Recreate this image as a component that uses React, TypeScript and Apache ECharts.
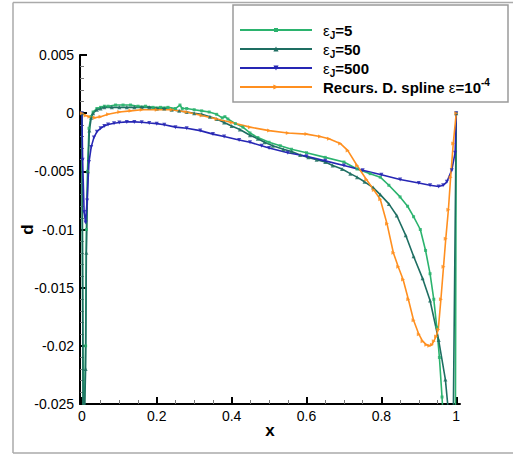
import React, { useEffect, useRef } from "react";
import * as echarts from "echarts";

const FONT = "'Liberation Sans', Arial, Helvetica, sans-serif";

const xTickValues = [0, 0.2, 0.4, 0.6, 0.8, 1];
const xMinorTickValues = [0.05, 0.1, 0.15, 0.25, 0.3, 0.35, 0.45, 0.5, 0.55, 0.65, 0.7, 0.75, 0.85, 0.9, 0.95];

const eps5X = [0, 0.004, 0.01, 0.012, 0.015, 0.019, 0.024, 0.03, 0.04, 0.05, 0.06, 0.07, 0.09, 0.11, 0.13, 0.15, 0.17, 0.19, 0.21, 0.23, 0.25, 0.262, 0.268, 0.28, 0.3, 0.32, 0.34, 0.36, 0.375, 0.382, 0.39, 0.41, 0.43, 0.449, 0.47, 0.5, 0.53, 0.56, 0.6, 0.65, 0.7, 0.735, 0.77, 0.797, 0.82, 0.85, 0.87, 0.886, 0.904, 0.918, 0.93, 0.94, 0.948, 0.955, 0.962, 0.968, 0.98, 0.997, 1];
const eps5Y = [0, -0.03, -0.02, -0.01, -0.005, -0.0013, -0.0003, 0.0001, 0.0004, 0.0005, 0.0006, 0.0006, 0.0007, 0.0007, 0.0007, 0.0006, 0.0006, 0.0005, 0.0005, 0.0005, 0.0004, 0.0007, 0.0004, 0.0004, 0.0003, 0.0002, 0.0001, -0.0001, -0.0004, -0.0003, -0.0005, -0.0009, -0.0012, -0.0017, -0.0021, -0.0025, -0.0028, -0.0031, -0.0034, -0.0038, -0.0042, -0.0048, -0.0052, -0.0055, -0.0062, -0.0072, -0.008, -0.0089, -0.01, -0.0118, -0.0138, -0.016, -0.0184, -0.021, -0.0244, -0.028, -0.04, -0.035, 0];

const eps50X = [0, 0.004, 0.01, 0.012, 0.016, 0.02, 0.025, 0.03, 0.04, 0.05, 0.06, 0.08, 0.1, 0.12, 0.14, 0.16, 0.18, 0.2, 0.22, 0.24, 0.26, 0.28, 0.3, 0.32, 0.342, 0.36, 0.38, 0.4, 0.422, 0.449, 0.47, 0.488, 0.51, 0.538, 0.56, 0.583, 0.605, 0.627, 0.65, 0.67, 0.695, 0.717, 0.735, 0.755, 0.778, 0.797, 0.82, 0.841, 0.865, 0.886, 0.91, 0.93, 0.953, 0.971, 0.98, 0.99, 1];
const eps50Y = [0, -0.03, -0.022, -0.012, -0.005, -0.0015, -0.0004, 0, 0.0003, 0.0004, 0.0005, 0.0005, 0.0005, 0.0005, 0.0005, 0.0005, 0.0005, 0.0004, 0.0004, 0.0003, 0.0002, 0.0001, 0, -0.0001, -0.0003, -0.0005, -0.0008, -0.0011, -0.0014, -0.0019, -0.0022, -0.0025, -0.0028, -0.0031, -0.0033, -0.0036, -0.0038, -0.004, -0.0042, -0.0045, -0.0048, -0.0052, -0.0055, -0.0059, -0.0064, -0.007, -0.0078, -0.0088, -0.0105, -0.0123, -0.0142, -0.0161, -0.0195, -0.0229, -0.026, -0.033, 0];

const eps500X = [0, 0.002, 0.006, 0.01, 0.014, 0.019, 0.025, 0.032, 0.04, 0.05, 0.06, 0.07, 0.086, 0.1, 0.12, 0.14, 0.16, 0.18, 0.2, 0.22, 0.25, 0.28, 0.316, 0.35, 0.38, 0.42, 0.449, 0.48, 0.5, 0.55, 0.6, 0.65, 0.7, 0.75, 0.8, 0.85, 0.9, 0.93, 0.953, 0.965, 0.975, 0.988, 0.997, 1];
const eps500Y = [0, -0.004, -0.0085, -0.0094, -0.0075, -0.0042, -0.0029, -0.0021, -0.0016, -0.0013, -0.0011, -0.00098, -0.00086, -0.0008, -0.00075, -0.00075, -0.00078, -0.00085, -0.0009, -0.001, -0.0012, -0.0013, -0.0015, -0.0018, -0.002, -0.0023, -0.0025, -0.0028, -0.003, -0.0034, -0.0037, -0.0041, -0.0045, -0.0049, -0.0053, -0.0057, -0.006, -0.0062, -0.0063, -0.0062, -0.0059, -0.0049, -0.0034, 0];

const splineX = [0, 0.01, 0.02, 0.035, 0.05, 0.07, 0.1, 0.13, 0.16, 0.2, 0.24, 0.28, 0.32, 0.36, 0.4, 0.449, 0.5, 0.55, 0.6, 0.636, 0.66, 0.69, 0.71, 0.735, 0.76, 0.78, 0.797, 0.815, 0.832, 0.845, 0.858, 0.872, 0.886, 0.9, 0.91, 0.92, 0.928, 0.935, 0.94, 0.946, 0.952, 0.959, 0.966, 0.972, 0.979, 0.985, 0.992, 1];
const splineY = [0, -0.0002, -0.0003, -0.0004, -0.0003, -0.0001, 0.0001, 0.0002, 0.0003, 0.0003, 0.0003, 0.0001, -0.0002, -0.0005, -0.0008, -0.0012, -0.0015, -0.0017, -0.0018, -0.002, -0.0022, -0.0026, -0.0032, -0.0045, -0.0057, -0.0066, -0.0074, -0.0095, -0.012, -0.0132, -0.0143, -0.016, -0.0178, -0.019, -0.0196, -0.0199, -0.02, -0.0199, -0.0196, -0.0192, -0.0186, -0.016, -0.0132, -0.0108, -0.0083, -0.0055, -0.0026, 0];

const C5 = "#2bb36e";
const C50 = "#1e6e62";
const C500 = "#2626b4";
const CSP = "#ff8f1f";

const zip = (xs: number[], ys: number[]) => xs.map((x, i) => [x, ys[i]]);

export default function App() {
  const ref = useRef<HTMLDivElement>(null);
  useEffect(() => {
    if (!ref.current) return;
    const chart = echarts.init(ref.current, null, { renderer: "svg" });

    const rowY = [30, 49, 68, 87];
    const colors = [C5, C50, C500, CSP];
    const mk = (i: number, cx: number, cy: number): any => {
      const s = 2.6;
      if (i === 0) return { type: "rect", shape: { x: cx - 2, y: cy - 2, width: 4, height: 4 }, style: { fill: C5 } };
      if (i === 1) return { type: "polygon", shape: { points: [[cx, cy - s], [cx - s, cy + s], [cx + s, cy + s]] }, style: { fill: C50 } };
      if (i === 2) return { type: "polygon", shape: { points: [[cx, cy + s], [cx - s, cy - s], [cx + s, cy - s]] }, style: { fill: C500 } };
      return { type: "polygon", shape: { points: [[cx + s, cy], [cx - s, cy - s], [cx - s, cy + s]] }, style: { fill: CSP } };
    };
    const richBase = {
      e: { fontSize: 15, fontFamily: FONT, lineHeight: 20, fill: "#000" },
      b: { fontSize: 15, fontWeight: "bold", fontFamily: FONT, lineHeight: 20, fill: "#000" },
      s: { fontSize: 10, fontWeight: "bold", fontFamily: FONT, lineHeight: 11, verticalAlign: "bottom", fill: "#000" },
      p: { fontSize: 10, fontWeight: "bold", fontFamily: FONT, lineHeight: 11, verticalAlign: "top", fill: "#000" },
    };
    const texts = [
      "{e|ε}{s|J}{b|=5}",
      "{e|ε}{s|J}{b|=50}",
      "{e|ε}{s|J}{b|=500}",
      "{b|Recurs. D. spline }{e|ε}{b|=10}{p|-4}",
    ];
    const legendEls: any[] = [
      { type: "rect", shape: { x: 233, y: 5, width: 275, height: 97 }, style: { fill: "#fff", stroke: "#9a9a9a", lineWidth: 1.5 } },
    ];
    rowY.forEach((y, i) => {
      legendEls.push({ type: "line", shape: { x1: 240, y1: y, x2: 312, y2: y }, style: { stroke: colors[i], lineWidth: 2 } });
      legendEls.push(mk(i, 276, y));
      legendEls.push({ type: "text", x: 323, y: y, style: { text: texts[i], rich: richBase, verticalAlign: "middle", align: "left" } });
    });

    const seriesBase = (name: string, data: number[][], color: string, symbol: string, rot: number, size: number) => ({
      name,
      type: "line",
      data,
      clip: true,
      showSymbol: true,
      showAllSymbol: true,
      symbol,
      symbolRotate: rot,
      symbolSize: size,
      lineStyle: { color, width: 1.6 },
      itemStyle: { color, opacity: 0.85 },
      emphasis: { disabled: true },
      z: 3,
    });

    chart.setOption({
      animation: false,
      textStyle: { fontFamily: FONT },
      grid: { left: 80, right: 53, top: 55, bottom: 50, containLabel: false },
      xAxis: [
        {
          type: "value",
          min: -0.005,
          max: 1.01,
          position: "bottom",
          name: "x",
          nameLocation: "middle",
          nameGap: 18,
          nameMoveOverlap: false,
          nameTextStyle: { fontSize: 17, fontWeight: "bold", color: "#000", fontFamily: FONT },
          axisLine: { show: true, onZero: false, lineStyle: { color: "#000", width: 2 } },
          axisTick: { show: true, inside: true, length: 7, customValues: xTickValues, lineStyle: { color: "#000", width: 2 } },
          axisLabel: { show: true, customValues: xTickValues, fontSize: 14, color: "#000", margin: 5, fontFamily: FONT, formatter: (v: number) => String(v) },
          splitLine: { show: false },
        },
        {
          type: "value",
          min: -0.005,
          max: 1.01,
          position: "bottom",
          axisLine: { show: false, onZero: false },
          axisTick: { show: true, inside: true, length: 4, customValues: xMinorTickValues, lineStyle: { color: "#777", width: 1 } },
          axisLabel: { show: false },
          splitLine: { show: false },
        },
      ],
      yAxis: {
        type: "value",
        min: -0.025,
        max: 0.005,
        interval: 0.005,
        name: "d",
        nameLocation: "middle",
        nameGap: 44,
        nameMoveOverlap: false,
        nameRotate: 90,
        nameTextStyle: { fontSize: 17, fontWeight: "bold", color: "#000", fontFamily: FONT },
        axisLine: { show: true, onZero: false, lineStyle: { color: "#000", width: 2 } },
        axisTick: { show: true, inside: true, length: 7, lineStyle: { color: "#000", width: 2 } },
        minorTick: { show: true, splitNumber: 5, length: 4, lineStyle: { color: "#777", width: 1 } },
        axisLabel: { fontSize: 14, color: "#000", margin: 6, fontFamily: FONT },
        splitLine: { show: false },
        minorSplitLine: { show: false },
      },
      series: [
        seriesBase("εJ=5", zip(eps5X, eps5Y), C5, "rect", 0, 3),
        seriesBase("εJ=50", zip(eps50X, eps50Y), C50, "triangle", 0, 4),
        seriesBase("εJ=500", zip(eps500X, eps500Y), C500, "triangle", 180, 4),
        seriesBase("Recurs. D. spline ε=10-4", zip(splineX, splineY), CSP, "triangle", -90, 4),
      ],
      graphic: [
        { type: "line", shape: { x1: 13, y1: 2.5, x2: 520, y2: 2.5 }, style: { stroke: "#aaa", lineWidth: 1.5 }, z: 10 },
        { type: "line", shape: { x1: 13, y1: 2.5, x2: 13, y2: 453 }, style: { stroke: "#aaa", lineWidth: 1.5 }, z: 10 },
        { type: "line", shape: { x1: 13, y1: 453, x2: 520, y2: 453 }, style: { stroke: "#aaa", lineWidth: 1.5 }, z: 10 },
        { type: "group", z: 20, children: legendEls },
      ],
    });
    return () => chart.dispose();
  }, []);
  return <div ref={ref} style={{ position: "fixed", left: 0, top: 0, width: 513, height: 454, background: "#fff" }} />;
}
